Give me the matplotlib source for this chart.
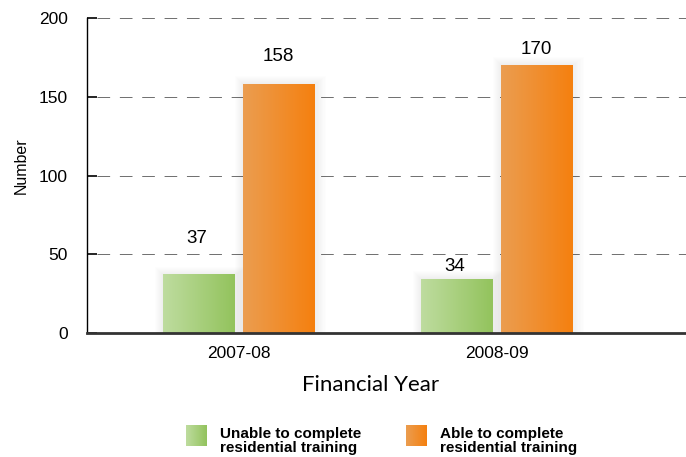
import numpy as np
import matplotlib
matplotlib.use("Agg")
import matplotlib.pyplot as plt
from matplotlib.colors import LinearSegmentedColormap
from matplotlib.patches import Rectangle

years = ["2007-08", "2008-09"]
unable = [37, 34]
able = [158, 170]
series_names = ["Unable to complete\nresidential training",
                "Able to complete\nresidential training"]

green = LinearSegmentedColormap.from_list("g", ["#bedc9f", "#93c35d"])
orange = LinearSegmentedColormap.from_list("o", ["#eb9d50", "#f5800f"])

plt.rcParams["font.family"] = ["Liberation Sans", "DejaVu Sans"]

fig = plt.figure(figsize=(6.86, 4.57), dpi=100)
ax = fig.add_axes([0.1268, 0.2713, 0.8732, 0.6893])

width = 0.279
offset = 0.155
grad = np.linspace(0, 1, 64).reshape(1, -1)
px_x = 1 / 258.0
px_y = 200 / 315.0
# gap between bar top and value label centre, in pixels (as in the original)
gap_unable = [36, 13]
gap_able = [28, 16]


def gradient_bar(x, h, cmap):
    # soft shadow, several faint layers
    for p in range(1, 9):
        ax.add_patch(Rectangle((x - width / 2 - p * px_x, 0),
                               width + 2.4 * p * px_x, h + p * px_y,
                               color="black", alpha=0.008, lw=0, zorder=1))
    ax.imshow(grad, cmap=cmap, aspect="auto", zorder=2,
              extent=[x - width / 2, x + width / 2, 0, h])


xs = np.arange(len(years))
for i in xs:
    gradient_bar(i - offset, unable[i], green)
    gradient_bar(i + offset, able[i], orange)
    ax.text(i - offset - 2 * px_x, unable[i] + gap_unable[i] * px_y,
            str(unable[i]), ha="center", va="center", fontsize=13.5)
    ax.text(i + offset - 1 * px_x, able[i] + gap_able[i] * px_y,
            str(able[i]), ha="center", va="center", fontsize=13.5)

ax.set_xlim(-0.589, 1.733)
ax.set_ylim(0, 200)
ax.set_yticks([0, 50, 100, 150, 200])
ax.set_xticks(xs)
ax.set_xticklabels(years)
ax.tick_params(axis="y", direction="in", length=7, width=1.2, labelsize=12.5, pad=14)
ax.tick_params(axis="x", length=0, labelsize=12.5, pad=9)
for y in [50, 100, 150, 200]:
    ax.plot([-0.55, 1.733], [y, y], ls=(0, (13, 10)), color="#6e6e6e", lw=0.7,
            zorder=0)

ax.spines["top"].set_visible(False)
ax.spines["right"].set_visible(False)
ax.spines["left"].set_linewidth(1.0)
ax.spines["bottom"].set_linewidth(2)
ax.spines["bottom"].set_color("#333333")
ax.spines["bottom"].set_zorder(5)

ax.set_ylabel("Number", fontsize=11.5)
ax.yaxis.set_label_coords(-0.098, 0.53)
ax.set_xlabel("Financial Year", fontsize=16, family=["Lato", "DejaVu Sans"])
ax.xaxis.set_label_coords((371 - 87) / 599, -(385 - 333) / 315)
ax.xaxis.label.set_va("center")

# legend
cmaps = [green, orange]
lx = [186, 406]
for k in range(2):
    lax = fig.add_axes([lx[k] / 686, 1 - 446 / 457, 21 / 686, 21 / 457])
    lax.imshow(grad, cmap=cmaps[k], aspect="auto")
    lax.axis("off")
    fig.text((lx[k] + 34) / 686, 1 - 441 / 457, series_names[k], fontsize=11,
             fontweight="bold", va="center", ha="left", linespacing=1.0)

fig.savefig("out.png", dpi=100)
